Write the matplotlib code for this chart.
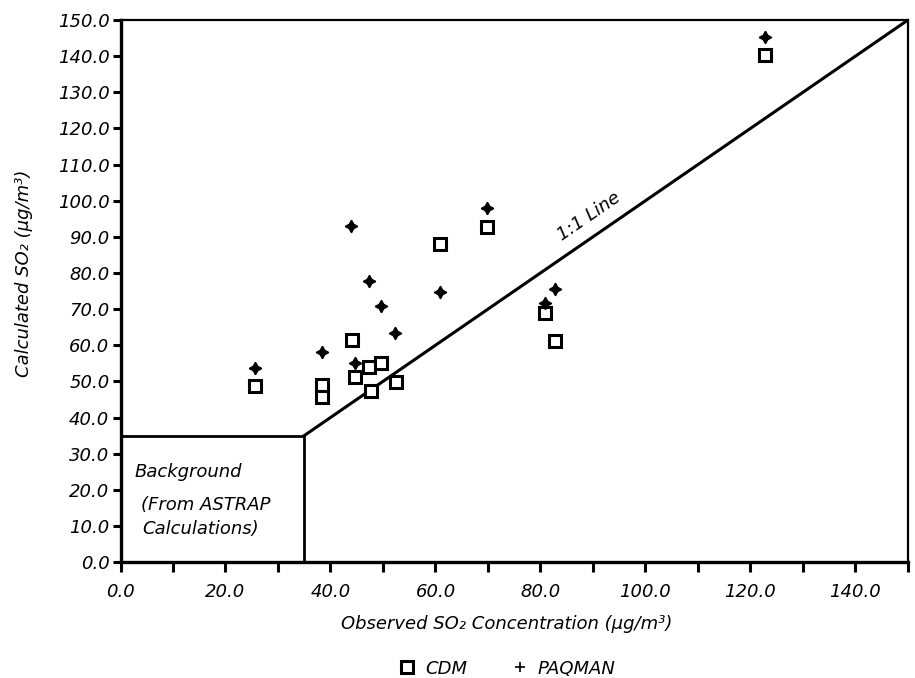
import numpy as np
import matplotlib
matplotlib.use("Agg")
import matplotlib.pyplot as plt
from matplotlib.lines import Line2D

plt.rcParams['font.family'] = ['DejaVu Sans']

# CDM (open squares) - observed vs calculated SO2
cdm_obs = [25.7, 38.4, 38.4, 44.1, 44.6, 47.3, 47.8, 49.7, 52.4, 60.8, 69.8, 80.8, 82.8, 122.7]
cdm_calc = [48.8, 49.0, 45.8, 61.5, 51.2, 53.9, 47.2, 55.2, 49.9, 88.0, 92.7, 68.9, 61.2, 140.4]

# PAQMAN (crosses)
paq_obs = [25.7, 38.4, 44.0, 44.6, 47.4, 49.7, 52.3, 60.8, 69.8, 80.8, 82.8, 122.7]
paq_calc = [53.8, 58.0, 93.1, 55.2, 77.8, 70.9, 63.3, 74.6, 98.0, 71.7, 75.5, 145.3]

BACKGROUND = 35.0
AX_MAX = 150.0
FS = 13

fig = plt.figure(figsize=(9.15, 6.78), dpi=100)
ax = fig.add_axes([0.1317, 0.171, 0.8606, 0.7995])

# background box and 1:1 line
ax.plot([0, BACKGROUND, BACKGROUND], [BACKGROUND, BACKGROUND, 0], color='black', lw=2.0)
ax.plot([BACKGROUND, AX_MAX], [BACKGROUND, AX_MAX], color='black', lw=2.2)

ax.plot(cdm_obs, cdm_calc, linestyle='none', marker='s', markersize=8.5,
        markerfacecolor='white', markeredgecolor='black', markeredgewidth=2.2, zorder=3)
ax.plot(paq_obs, paq_calc, linestyle='none', marker=(4, 1, 0), markersize=9,
        color='black', markeredgewidth=1.0, zorder=4)

ax.set_xlim(0, AX_MAX)
ax.set_ylim(0, AX_MAX)

ax.set_yticks(np.arange(0, 151, 10))
ax.set_yticklabels([f"{v:.1f}" for v in np.arange(0, 151, 10)])
ax.set_xticks(np.arange(0, 141, 20))
ax.set_xticklabels([f"{v:.1f}" for v in np.arange(0, 141, 20)])
ax.set_xticks(np.arange(0, 151, 10), minor=True)

for lab in ax.get_xticklabels() + ax.get_yticklabels():
    lab.set_fontstyle('italic')
    lab.set_fontsize(FS)

ax.tick_params(axis='both', which='both', direction='out', width=2.2, colors='black')
ax.tick_params(axis='y', length=6, pad=2)
ax.tick_params(axis='x', which='both', length=7, pad=8)

ax.spines['left'].set_linewidth(2.4)
ax.spines['bottom'].set_linewidth(2.4)
ax.spines['top'].set_linewidth(1.6)
ax.spines['right'].set_linewidth(1.6)

ax.set_xlabel("Observed SO\u2082 Concentration (\u00b5g/m\u00b3)", fontsize=FS, fontstyle='italic')
ax.set_ylabel("Calculated SO\u2082 (\u00b5g/m\u00b3)", fontsize=FS, fontstyle='italic')
ax.xaxis.set_label_coords(0.49, -0.098)
ax.yaxis.set_label_coords(-0.111, 0.533)

ax.text(89.2, 95.6, "1:1 Line", rotation=34.5, fontsize=FS, fontstyle='italic',
        ha='center', va='center', rotation_mode='anchor')

ax.text(2.6, 24.9, "Background", fontsize=FS, fontstyle='italic', va='center')
ax.text(3.9, 15.8, "(From ASTRAP", fontsize=FS, fontstyle='italic', va='center')
ax.text(4.1, 9.1, "Calculations)", fontsize=FS, fontstyle='italic', va='center')

handles = [
    Line2D([], [], linestyle='none', marker='s', markersize=8.5, markerfacecolor='white',
           markeredgecolor='black', markeredgewidth=2.2),
    Line2D([], [], linestyle='none', marker='+', markersize=7, color='black', markeredgewidth=1.2),
]
leg = fig.legend(handles, ["CDM", "PAQMAN"], loc='center', bbox_to_anchor=(0.556, 0.014),
                 ncol=2, frameon=False, fontsize=FS, handlelength=0.6, handletextpad=0.7,
                 columnspacing=2.6)
for t in leg.get_texts():
    t.set_fontstyle('italic')

fig.savefig("out.png", dpi=100)
